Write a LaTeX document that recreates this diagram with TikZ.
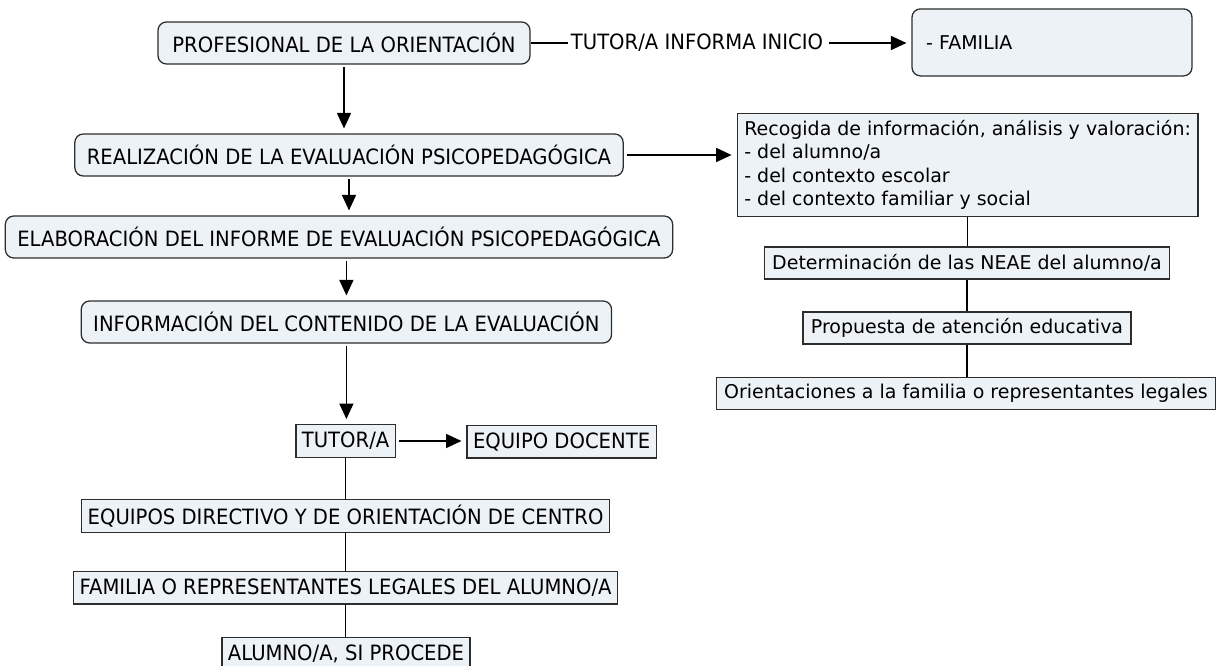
\documentclass[tikz,border=0pt]{standalone}
\usepackage{fontspec}
\setmainfont{DejaVu Sans}
\newfontfamily\boxfamily[FakeStretch=0.93]{DejaVu Sans}
\usepackage{xcolor}
\usepackage{tikz}
\usetikzlibrary{arrows.meta}

\definecolor{boxfill}{RGB}{236,242,245}
\definecolor{boxline}{RGB}{45,45,45}
\newcommand{\boxfont}{\boxfamily\fontsize{15pt}{18pt}\selectfont}
\newcommand{\notefont}{\fontsize{13.5pt}{16.6pt}\selectfont}

\tikzset{
  rbox/.style={draw=boxline, fill=boxfill, rounded corners=6pt, line width=0.9pt,
    inner xsep=0.3cm, minimum height=1.05cm, font=\boxfont},
  sbox/.style={draw=boxline, fill=boxfill, line width=0.9pt,
    inner xsep=0.15cm, minimum height=0.82cm, font=\boxfont},
  nbox/.style={draw=boxline, fill=boxfill, line width=0.9pt,
    inner xsep=0.2cm, minimum height=0.8cm, font=\notefont},
  arr/.style={-{Triangle[length=11pt,width=10pt]}, line width=0.9pt,
    shorten <=2pt, shorten >=3.5pt},
  lnk/.style={line width=0.9pt}
}

\begin{document}
\begin{tikzpicture}
\useasboundingbox (0,0) rectangle (30.5,16.65);

% Main column
\node[rbox, minimum width=9.3cm] (prof) at (8.6,15.575) {PROFESIONAL DE LA ORIENTACIÓN};
\node[rbox] (real) at (8.725,12.775) {REALIZACIÓN DE LA EVALUACIÓN PSICOPEDAGÓGICA};
\node[rbox] (elab) at (8.475,10.725) {ELABORACIÓN DEL INFORME DE EVALUACIÓN PSICOPEDAGÓGICA};
\node[rbox] (info) at (8.66,8.6) {INFORMACIÓN DEL CONTENIDO DE LA EVALUACIÓN};

\node[sbox] (tutor) at (8.64,5.625) {TUTOR/A};
\node[sbox] (docente) at (14.04,5.61) {EQUIPO DOCENTE};
\node[sbox] (directivo) at (8.64,3.75) {EQUIPOS DIRECTIVO Y DE ORIENTACIÓN DE CENTRO};
\node[sbox] (famrep) at (8.64,1.96) {FAMILIA O REPRESENTANTES LEGALES DEL ALUMNO/A};
\node[sbox] (alumno) at (8.65,0.3) {ALUMNO/A, SI PROCEDE};

% Top right
\node[font=\boxfont, inner sep=2pt] (inicio) at (17.425,15.575) {TUTOR/A INFORMA INICIO};
\node[rbox, font=\notefont, minimum width=7cm, minimum height=1.675cm,
  text width=6.3cm, align=left] (familia) at (26.3,15.59) {- FAMILIA};

% Right column
\node[nbox, align=left, inner sep=0.18cm] (recogida) at (24.19,12.525)
  {Recogida de información, análisis y valoración:\\
   - del alumno/a\\
   - del contexto escolar\\
   - del contexto familiar y social};
\node[nbox] (neae) at (24.175,10.075) {Determinación de las NEAE del alumno/a};
\node[nbox] (propuesta) at (24.175,8.45) {Propuesta de atención educativa};
\node[nbox] (orienta) at (24.15,6.81) {Orientaciones a la familia o representantes legales};

% Arrows
\draw[lnk] (prof.east) -- (inicio.west);
\draw[arr] (inicio.east) -- (inicio.east -| familia.west);
\draw[arr] (prof.south) -- (prof.south |- real.north);
\draw[arr] (real.east) -- (real.east -| recogida.west);
\draw[arr] (real.south) -- (real.south |- elab.north);
\draw[arr] (info.north |- elab.south) -- (info.north);
\draw[arr] (info.south) -- (info.south |- tutor.north);
\draw[arr] (tutor.east) -- (tutor.east -| docente.west);

% Lines
\draw[lnk] (tutor.south) -- (tutor.south |- directivo.north);
\draw[lnk] (directivo.south) -- (directivo.south |- famrep.north);
\draw[lnk] (famrep.south) -- (famrep.south |- alumno.north);
\draw[lnk] (recogida.south) -- (recogida.south |- neae.north);
\draw[lnk] (neae.south) -- (neae.south |- propuesta.north);
\draw[lnk] (propuesta.south) -- (propuesta.south |- orienta.north);
\end{tikzpicture}
\end{document}
